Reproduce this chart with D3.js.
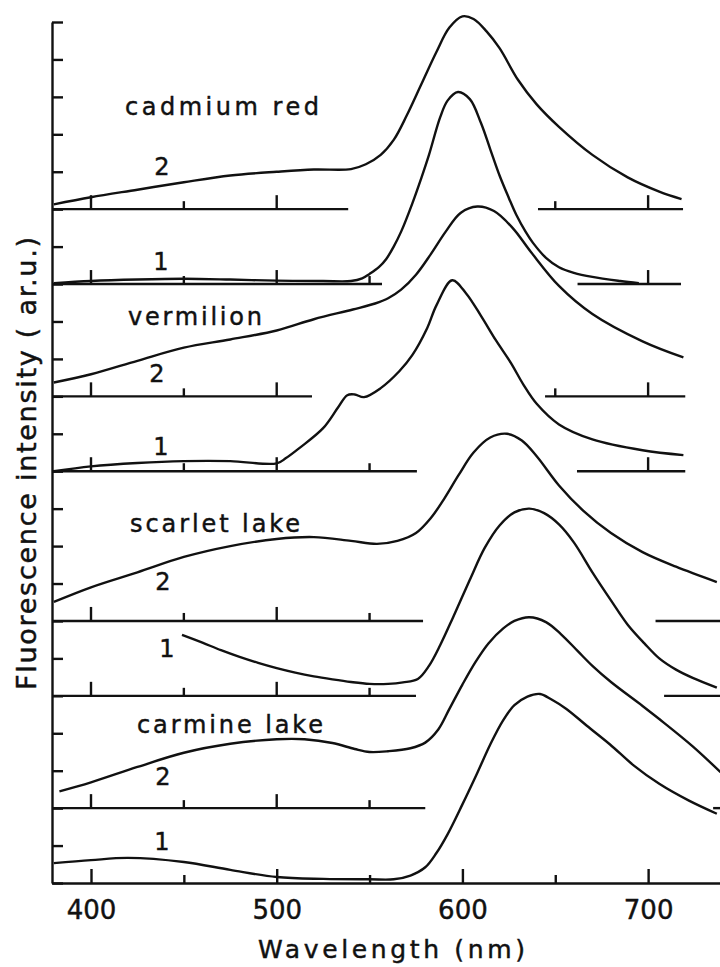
<!DOCTYPE html>
<html>
<head>
<meta charset="utf-8">
<script src="https://cdn.jsdelivr.net/npm/d3@7"></script>
<style>
  html, body { margin: 0; padding: 0; background: #fff; }
  svg { display: block; }
  text { font-family: "DejaVu Sans", sans-serif; fill: #111; stroke: #111; stroke-width: 0.45px; }
</style>
</head>
<body>
<svg id="chart" width="720" height="967"></svg>
<script>
// ---------------- data (wavelength nm, intensity a.u. above own baseline) ----------------
const xTickLabels = [400, 500, 600, 700];
const minorTicks = [450, 550, 650];
const yUnitTicks = d3.range(0, 24);

const pigmentNames = ["cadmium red", "vermilion", "scarlet lake", "carmine lake"];
const curveLabels = ["2", "1", "2", "1", "2", "1", "2", "1"];
const baselineOffsets = [18, 16, 13, 11, 7, 5, 2, 0];

const cadmiumRed2 = [[380,0.13],[400,0.32],[425,0.52],[450,0.72],[475,0.9],[500,1.0],[520,1.06],[540,1.07],[548,1.2],[556,1.45],[563,1.85],[570,2.5],[578,3.35],[586,4.2],[593,4.85],[600,5.15],[606,5.08],[613,4.75],[620,4.3],[630,3.45],[640,2.8],[652,2.2],[670,1.45],[689,0.85],[706,0.47],[718,0.27]];
const cadmiumRed1 = [[380,0.02],[400,0.08],[425,0.12],[450,0.14],[475,0.12],[500,0.09],[525,0.08],[540,0.08],[546,0.15],[550,0.27],[555,0.45],[559,0.67],[563,1.0],[567,1.4],[573,2.15],[578,2.85],[582,3.45],[588,4.45],[592,4.9],[597.6,5.13],[604,4.94],[610,4.3],[615,3.6],[620,2.9],[625,2.3],[629,1.85],[634,1.4],[638,1.1],[645,0.7],[652,0.45],[660,0.3],[670,0.19],[685,0.08],[695,0.02]];
const vermilion2 = [[380,0.37],[400,0.59],[425,0.95],[450,1.3],[475,1.52],[500,1.76],[520,2.06],[541,2.32],[553,2.48],[560,2.62],[567,2.85],[575,3.25],[583,3.8],[591,4.4],[599,4.9],[608,5.07],[617,4.95],[627,4.5],[637,3.85],[652,2.95],[670,2.2],[697,1.47],[719,1.04]];
const vermilion1 = [[380,0.0],[400,0.13],[425,0.22],[450,0.27],[475,0.27],[500,0.21],[505,0.35],[512,0.61],[525,1.15],[533,1.7],[538,2.03],[542,2.05],[547,1.98],[556,2.22],[566,2.67],[573,3.1],[581,3.82],[586,4.43],[594.5,5.1],[602,4.75],[610,4.15],[618,3.5],[626,2.9],[633,2.3],[640,1.8],[652,1.25],[670,0.85],[697,0.56],[719,0.43]];
const scarletLake2 = [[380,0.51],[400,0.9],[425,1.3],[450,1.71],[475,2.0],[500,2.19],[520,2.24],[540,2.14],[554,2.06],[565,2.14],[575,2.35],[583,2.75],[590,3.25],[598,3.9],[606,4.5],[615,4.9],[624,5.0],[632,4.82],[640,4.4],[652,3.62],[665,2.95],[680,2.35],[697,1.84],[715,1.45],[737,1.04]];
const scarletLake1 = [[449,1.63],[460,1.42],[470,1.22],[480,1.04],[490,0.88],[500,0.74],[510,0.62],[520,0.52],[530,0.44],[540,0.37],[550,0.32],[560,0.32],[568,0.36],[576,0.45],[582,0.8],[588,1.35],[595,2.1],[604,3.1],[612,3.95],[620,4.55],[628,4.9],[636,5.0],[644,4.88],[652,4.58],[660,4.1],[670,3.3],[680,2.55],[689,1.9],[698,1.4],[706,1.0],[715,0.7],[724,0.48],[737,0.22]];
const carmineLake2 = [[383,0.45],[400,0.69],[425,1.1],[450,1.48],[475,1.72],[500,1.84],[515,1.84],[530,1.74],[542,1.58],[550,1.5],[560,1.52],[572,1.6],[580,1.75],[587,2.1],[593,2.65],[600,3.3],[607,3.9],[614,4.4],[622,4.8],[628,5.0],[636,5.1],[645,4.97],[653,4.65],[662,4.2],[670,3.8],[680,3.37],[697,2.73],[706,2.38],[724,1.65],[739,0.96]];
const carmineLake1 = [[380,0.53],[400,0.61],[420,0.67],[450,0.56],[475,0.35],[500,0.16],[525,0.11],[550,0.1],[563,0.1],[572,0.2],[580,0.42],[586,0.8],[592,1.3],[600,2.1],[608,2.94],[615,3.7],[622,4.35],[628,4.75],[635,4.98],[641.8,5.05],[648,4.9],[656,4.65],[667,4.2],[679.5,3.7],[692,3.15],[706,2.65],[722,2.2],[737,1.85]];

const seriesData = [cadmiumRed2, cadmiumRed1, vermilion2, vermilion1, scarletLake2, scarletLake1, carmineLake2, carmineLake1];

// baseline segments (nm) drawn under each curve
const baselineSegments = [
  [[379, 538.5], [640.7, 718.8]],
  [[379, 556.7], [662, 717.7]],
  [[379, 519], [644.5, 720]],
  [[379, 575.5], [661.7, 720]],
  [[379, 578.8], [704, 745]],
  [[379, 575], [708.6, 745]],
  [[379, 580], [735, 745]]
];
const baselineTickValues = [400, 450, 500, 550, 650, 700];

// ---------------- drawing ----------------
const svg = d3.select("#chart");
const x = d3.scaleLinear().domain([379, 740]).range([52, 722.4]);
const y = d3.scaleLinear().domain([0, 23]).range([883, 22]);
const ink = "#111";
const lw = 2.4;

// left axis with unit ticks pointing inwards
const leftAxis = d3.axisLeft(y).tickValues(yUnitTicks).tickSize(-11).tickSizeOuter(0).tickFormat("");
const gl = svg.append("g").attr("transform", `translate(${x(379)},0)`).call(leftAxis);
gl.select(".domain").attr("stroke", ink).attr("stroke-width", lw);
gl.selectAll(".tick line").attr("stroke", ink).attr("stroke-width", lw);

// bottom axis (baseline of carmine lake 1)
const gbMinor = svg.append("g").attr("transform", `translate(0,${y(0)})`)
  .call(d3.axisBottom(x).tickValues(minorTicks).tickSize(-8).tickSizeOuter(0).tickFormat(""));
const gb = svg.append("g").attr("transform", `translate(0,${y(0)})`)
  .call(d3.axisBottom(x).tickValues(xTickLabels).tickSize(-14).tickSizeOuter(0).tickPadding(18).tickFormat(d3.format("d")));
[gbMinor, gb].forEach(g => {
  g.select(".domain").attr("stroke", ink).attr("stroke-width", lw);
  g.selectAll(".tick line").attr("stroke", ink).attr("stroke-width", lw);
});
gbMinor.select(".domain").remove();
gb.selectAll(".tick text").attr("font-size", 26).attr("font-family", "DejaVu Sans").attr("fill", ink);

// other baselines with ticks
baselineSegments.forEach((segs, i) => {
  const yb = y(baselineOffsets[i]);
  const g = svg.append("g");
  segs.forEach(([a, b]) => {
    g.append("line").attr("x1", x(a)).attr("x2", Math.min(x(b), 720)).attr("y1", yb).attr("y2", yb)
      .attr("stroke", ink).attr("stroke-width", lw);
    baselineTickValues.filter(t => t >= a + 2 && t <= b - 2).forEach(t => {
      const len = (t % 100 === 0) ? 14 : 8;
      g.append("line").attr("x1", x(t)).attr("x2", x(t)).attr("y1", yb).attr("y2", yb - len)
        .attr("stroke", ink).attr("stroke-width", lw);
    });
  });
});

// spectra
seriesData.forEach((pts, i) => {
  const off = baselineOffsets[i];
  const line = d3.line().x(d => x(d[0])).y(d => y(off + d[1])).curve(d3.curveCatmullRom.alpha(0.5));
  svg.append("path").attr("d", line(pts)).attr("fill", "none").attr("stroke", ink)
    .attr("stroke-width", lw).attr("stroke-linejoin", "round");
});

// pigment names
const namePos = [[125, 115, 194], [128, 325, 134], [130, 532, 170], [137, 733, 186]];
pigmentNames.forEach((n, i) => {
  svg.append("text").attr("x", namePos[i][0]).attr("y", namePos[i][1])
    .attr("font-size", 24).attr("textLength", namePos[i][2]).attr("lengthAdjust", "spacing").text(n);
});

// curve numbers
const numPos = [[162, 175], [161, 270], [157, 382], [161, 455], [163, 590], [167, 657], [163, 785], [162, 850]];
curveLabels.forEach((t, i) => {
  svg.append("text").attr("x", numPos[i][0]).attr("y", numPos[i][1]).attr("text-anchor", "middle")
    .attr("font-size", 24).text(t);
});

// axis titles
svg.append("text").attr("x", 258).attr("y", 958).attr("font-size", 25)
  .attr("textLength", 267).attr("lengthAdjust", "spacing").text("Wavelength  (nm)");
svg.append("text").attr("transform", "translate(36,690) rotate(-90)").attr("font-size", 27)
  .attr("textLength", 453).attr("lengthAdjust", "spacing").text("Fluorescence intensity ( ar.u.)");
</script>
</body>
</html>
